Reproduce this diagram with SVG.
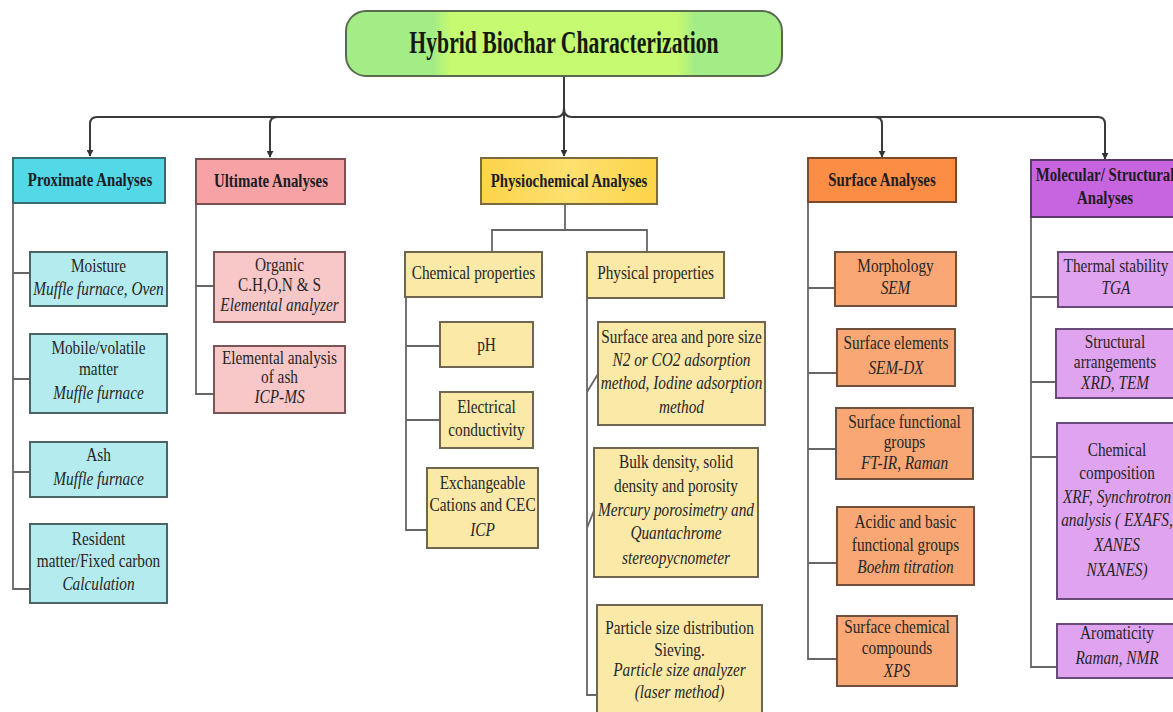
<svg xmlns="http://www.w3.org/2000/svg" width="1173" height="712" viewBox="0 0 1173 712">
<style>
.t{font-family:"Liberation Serif","Times New Roman",serif;font-size:18px;fill:#262626;text-anchor:middle}
.i{font-style:italic}
.h{font-weight:bold;font-size:19px;fill:#1c1c24}
.ttl{font-family:"Liberation Serif","Times New Roman",serif;font-weight:bold;font-size:31px;fill:#141a10;text-anchor:middle}
.bus{fill:none;stroke:#3a3a3a;stroke-width:2}
.ln{fill:none;stroke:#666;stroke-width:1.8}
.cy{fill:#b4ebee;stroke:#4b6466;stroke-width:2}
.pk{fill:#f8c7c8;stroke:#7b5456;stroke-width:2}
.ye{fill:#fbe9a8;stroke:#6e6650;stroke-width:2}
.or{fill:#f9a774;stroke:#70503c;stroke-width:2}
.pu{fill:#e0a3f0;stroke:#6a4a78;stroke-width:2}
</style>
<defs>
<linearGradient id="gT" x1="0" y1="0" x2="1" y2="0">
<stop offset="0" stop-color="#a4ec86"/><stop offset="0.2" stop-color="#a4ec86"/><stop offset="0.24" stop-color="#c6fa70"/><stop offset="0.76" stop-color="#c6fa70"/><stop offset="0.8" stop-color="#a4ec86"/><stop offset="1" stop-color="#a4ec86"/>
</linearGradient>
<linearGradient id="gY" x1="0" y1="0" x2="1" y2="0">
<stop offset="0" stop-color="#fcd448"/><stop offset="0.5" stop-color="#fde070"/><stop offset="1" stop-color="#fcd448"/>
</linearGradient>
<marker id="ar" viewBox="0 0 10 10" refX="9" refY="5" markerWidth="7" markerHeight="7" markerUnits="userSpaceOnUse" orient="auto">
<path d="M0,0 L10,5 L0,10 z" fill="#333"/>
</marker>
</defs>

<g id="connectors">
<path class="bus" d="M564,76 V156" marker-end="url(#ar)"/>
<path class="bus" d="M564,108 Q564,117 556,117 H97 Q90,117 90,124 V156" marker-end="url(#ar)"/>
<path class="bus" d="M277,117 Q270,117 270,124 V157" marker-end="url(#ar)"/>
<path class="bus" d="M564,108 Q564,117 572,117 H1098 Q1105,117 1105,124 V159" marker-end="url(#ar)"/>
<path class="bus" d="M875,117 Q882,117 882,124 V157" marker-end="url(#ar)"/>
<path class="ln" d="M13,203 V589 H30 M13,273 H30 M13,379 H30 M13,472 H30"/>
<path class="ln" d="M196,204 V394 H214 M196,286 H214"/>
<path class="ln" d="M565,204 V230 M492,252 V230 H647 V252"/>
<path class="ln" d="M406,297 V530 H427 M406,346 H440 M406,420 H440"/>
<path class="ln" d="M587,298 V695 H597 M587,392 L598,374 M587,528 L595,508"/>
<path class="ln" d="M808,202 V659 H837 M808,288 H835 M808,373 H837 M808,449 H836 M808,563 H837"/>
<path class="ln" d="M1031,217 V667 H1057 M1031,297 H1058 M1031,382 H1056 M1031,457 H1057"/>
</g>

<g id="title">
<rect x="346" y="11" width="436" height="65" rx="20" fill="url(#gT)" stroke="#5a6a50" stroke-width="2"/>
<text class="ttl" transform="translate(564 0) scale(.7 1)"><tspan x="0" y="53">Hybrid Biochar Characterization</tspan></text>
</g>

<g id="proximate">
<rect x="13" y="158" width="152" height="45" fill="#52d8e6" stroke="#3a6a70" stroke-width="2"/>
<text class="t h" transform="translate(90 0) scale(.78 1)"><tspan x="0" y="186">Proximate Analyses</tspan></text>
</g>
<g id="ultimate">
<rect x="196" y="159" width="149" height="45" fill="#f7a3a6" stroke="#7a5050" stroke-width="2"/>
<text class="t h" transform="translate(271 0) scale(.78 1)"><tspan x="0" y="187">Ultimate Analyses</tspan></text>
</g>
<g id="physiochemical">
<rect x="481" y="158" width="176" height="46" fill="url(#gY)" stroke="#7a6a40" stroke-width="2"/>
<text class="t h" transform="translate(569 0) scale(.78 1)"><tspan x="0" y="187">Physiochemical Analyses</tspan></text>
</g>
<g id="surface">
<rect x="808" y="158" width="148" height="44" fill="#fb8d45" stroke="#7a4a30" stroke-width="2"/>
<text class="t h" transform="translate(882 0) scale(.78 1)"><tspan x="0" y="186">Surface Analyses</tspan></text>
</g>
<g id="molecular">
<rect x="1031" y="160" width="155" height="57" fill="#c765e0" stroke="#5a3a6a" stroke-width="2"/>
<text class="t h" transform="translate(1105 0) scale(.78 1)"><tspan x="0" y="181">Molecular/ Structural</tspan><tspan x="0" y="204">Analyses</tspan></text>
</g>

<g id="moisture">
<rect class="cy" x="30" y="252" width="137" height="54"/>
<text class="t" transform="translate(98.5 0) scale(.85 1)"><tspan x="0" y="272">Moisture</tspan><tspan class="i" x="0" y="295">Muffle furnace, Oven</tspan></text>
</g>
<g id="volatile">
<rect class="cy" x="30" y="334" width="137" height="79"/>
<text class="t" transform="translate(98.5 0) scale(.85 1)"><tspan x="0" y="354">Mobile/volatile</tspan><tspan x="0" y="375">matter</tspan><tspan class="i" x="0" y="399">Muffle furnace</tspan></text>
</g>
<g id="ash">
<rect class="cy" x="30" y="442" width="137" height="55"/>
<text class="t" transform="translate(98.5 0) scale(.85 1)"><tspan x="0" y="461">Ash</tspan><tspan class="i" x="0" y="485">Muffle furnace</tspan></text>
</g>
<g id="resident">
<rect class="cy" x="30" y="524" width="137" height="79"/>
<text class="t" transform="translate(98.5 0) scale(.85 1)"><tspan x="0" y="545">Resident</tspan><tspan x="0" y="567">matter/Fixed carbon</tspan><tspan class="i" x="0" y="590">Calculation</tspan></text>
</g>

<g id="organic">
<rect class="pk" x="214" y="252" width="131" height="70"/>
<text class="t" transform="translate(279.5 0) scale(.85 1)"><tspan x="0" y="271">Organic</tspan><tspan x="0" y="291">C.H,O,N &amp; S</tspan><tspan class="i" x="0" y="311">Elemental analyzer</tspan></text>
</g>
<g id="elemental-ash">
<rect class="pk" x="214" y="346" width="131" height="67"/>
<text class="t" transform="translate(279.5 0) scale(.85 1)"><tspan x="0" y="364">Elemental analysis</tspan><tspan x="0" y="383">of ash</tspan><tspan class="i" x="0" y="403">ICP-MS</tspan></text>
</g>

<g id="chemical-properties">
<rect class="ye" x="405" y="252" width="137" height="45"/>
<text class="t" transform="translate(473.5 0) scale(.85 1)"><tspan x="0" y="279">Chemical properties</tspan></text>
</g>
<g id="physical-properties">
<rect class="ye" x="587" y="252" width="137" height="46"/>
<text class="t" transform="translate(655.5 0) scale(.85 1)"><tspan x="0" y="279">Physical properties</tspan></text>
</g>
<g id="ph">
<rect class="ye" x="440" y="322" width="93" height="45"/>
<text class="t" transform="translate(486.5 0) scale(.85 1)"><tspan x="0" y="351">pH</tspan></text>
</g>
<g id="conductivity">
<rect class="ye" x="440" y="392" width="93" height="56"/>
<text class="t" transform="translate(486.5 0) scale(.85 1)"><tspan x="0" y="413">Electrical</tspan><tspan x="0" y="436">conductivity</tspan></text>
</g>
<g id="cec">
<rect class="ye" x="427" y="468" width="111" height="80"/>
<text class="t" transform="translate(482.5 0) scale(.85 1)"><tspan x="0" y="489">Exchangeable</tspan><tspan x="0" y="511">Cations and CEC</tspan><tspan class="i" x="0" y="536">ICP</tspan></text>
</g>
<g id="surface-area">
<rect class="ye" x="598" y="322" width="167" height="103"/>
<text class="t" transform="translate(681.5 0) scale(.85 1)"><tspan x="0" y="343">Surface area and pore size</tspan><tspan class="i" x="0" y="366">N2 or CO2 adsorption</tspan><tspan class="i" x="0" y="389">method, Iodine adsorption</tspan><tspan class="i" x="0" y="413">method</tspan></text>
</g>
<g id="bulk-density">
<rect class="ye" x="594" y="448" width="164" height="129"/>
<text class="t" transform="translate(676 0) scale(.85 1)"><tspan x="0" y="468">Bulk density, solid</tspan><tspan x="0" y="492">density and porosity</tspan><tspan class="i" x="0" y="516">Mercury porosimetry and</tspan><tspan class="i" x="0" y="539">Quantachrome</tspan><tspan class="i" x="0" y="564">stereopycnometer</tspan></text>
</g>
<g id="particle-size">
<rect class="ye" x="597" y="605" width="165" height="120"/>
<text class="t" transform="translate(679.5 0) scale(.85 1)"><tspan x="0" y="634">Particle size distribution</tspan><tspan x="0" y="656">Sieving.</tspan><tspan class="i" x="0" y="676">Particle size analyzer</tspan><tspan class="i" x="0" y="698">(laser method)</tspan></text>
</g>

<g id="morphology">
<rect class="or" x="835" y="252" width="121" height="54"/>
<text class="t" transform="translate(895.5 0) scale(.85 1)"><tspan x="0" y="272">Morphology</tspan><tspan class="i" x="0" y="294">SEM</tspan></text>
</g>
<g id="surface-elements">
<rect class="or" x="837" y="329" width="118" height="57"/>
<text class="t" transform="translate(896 0) scale(.85 1)"><tspan x="0" y="349">Surface elements</tspan><tspan class="i" x="0" y="374">SEM-DX</tspan></text>
</g>
<g id="functional-groups">
<rect class="or" x="836" y="408" width="137" height="71"/>
<text class="t" transform="translate(904.5 0) scale(.85 1)"><tspan x="0" y="428">Surface functional</tspan><tspan x="0" y="448">groups</tspan><tspan class="i" x="0" y="469">FT-IR, Raman</tspan></text>
</g>
<g id="acidic-basic">
<rect class="or" x="837" y="507" width="137" height="78"/>
<text class="t" transform="translate(905.5 0) scale(.85 1)"><tspan x="0" y="528">Acidic and basic</tspan><tspan x="0" y="551">functional groups</tspan><tspan class="i" x="0" y="573">Boehm titration</tspan></text>
</g>
<g id="chemical-compounds">
<rect class="or" x="837" y="616" width="120" height="70"/>
<text class="t" transform="translate(897 0) scale(.85 1)"><tspan x="0" y="633">Surface chemical</tspan><tspan x="0" y="654">compounds</tspan><tspan class="i" x="0" y="677">XPS</tspan></text>
</g>

<g id="thermal-stability">
<rect class="pu" x="1058" y="252" width="128" height="55"/>
<text class="t" transform="translate(1116 0) scale(.85 1)"><tspan x="0" y="272">Thermal stability</tspan><tspan class="i" x="0" y="294">TGA</tspan></text>
</g>
<g id="structural">
<rect class="pu" x="1056" y="329" width="130" height="69"/>
<text class="t" transform="translate(1115 0) scale(.85 1)"><tspan x="0" y="348">Structural</tspan><tspan x="0" y="368">arrangements</tspan><tspan class="i" x="0" y="389">XRD, TEM</tspan></text>
</g>
<g id="chemical-composition">
<rect class="pu" x="1057" y="423" width="129" height="176"/>
<text class="t" transform="translate(1117 0) scale(.85 1)"><tspan x="0" y="456">Chemical</tspan><tspan x="0" y="479">composition</tspan><tspan class="i" x="0" y="503">XRF, Synchrotron</tspan><tspan class="i" x="0" y="526">analysis ( EXAFS,</tspan><tspan class="i" x="0" y="551">XANES</tspan><tspan class="i" x="0" y="576">NXANES)</tspan></text>
</g>
<g id="aromaticity">
<rect class="pu" x="1057" y="624" width="129" height="54"/>
<text class="t" transform="translate(1117 0) scale(.85 1)"><tspan x="0" y="639">Aromaticity</tspan><tspan class="i" x="0" y="664">Raman, NMR</tspan></text>
</g>
</svg>
